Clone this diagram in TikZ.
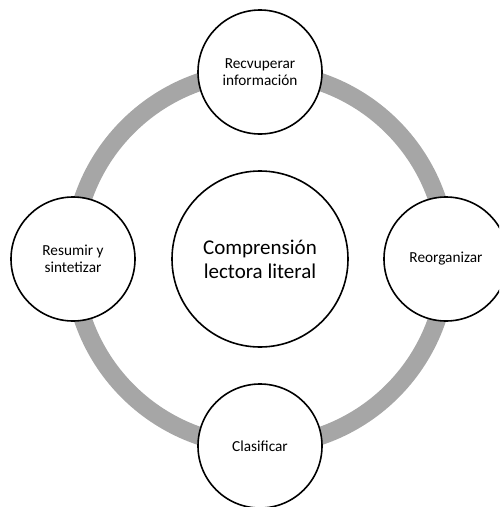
\documentclass[tikz,border=0pt]{standalone}
\usepackage{fontspec}
\setmainfont{Carlito}
\begin{document}
\begin{tikzpicture}[x=1pt,y=-1pt,
  ringline/.style={draw=black!35, line width=18pt},
  smallcirc/.style={circle, draw=black, fill=white, line width=1.6pt, minimum size=124pt, inner sep=0pt, align=center, font=\fontsize{15.3}{17.5}\selectfont},
  bigcirc/.style={circle, draw=black, fill=white, line width=1.6pt, minimum size=176pt, inner sep=0pt, align=center, font=\fontsize{21}{24}\selectfont}]
\useasboundingbox (0,0) rectangle (499,507);
\clip (0,0) rectangle (499,507);
\coordinate (o) at (260,259);
\draw[ringline] (o) circle[radius=187];
\node[bigcirc] (c) at (o) {Comprensión\\lectora literal};
\node[smallcirc] (t) at (260,72) {Recvuperar\\información};
\node[smallcirc] (r) at (446,259) {Reorganizar};
\node[smallcirc] (b) at (260,446) {Clasificar};
\node[smallcirc] (l) at (73,259) {Resumir y\\sintetizar};
\end{tikzpicture}
\end{document}
